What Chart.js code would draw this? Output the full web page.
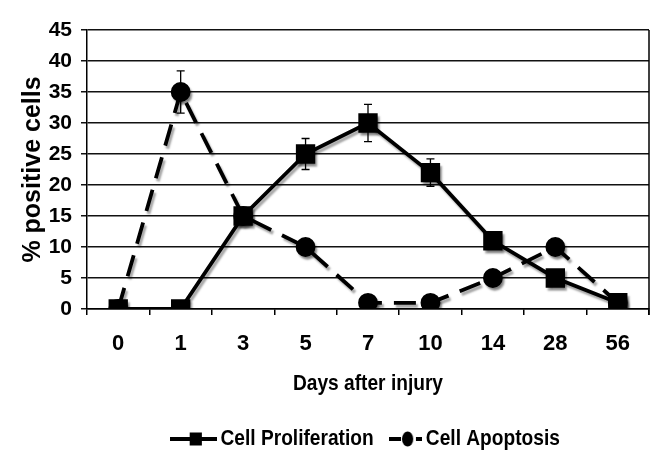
<!DOCTYPE html>
<html><head><meta charset="utf-8">
<script src="https://cdn.jsdelivr.net/npm/chart.js@4/dist/chart.umd.min.js"></script>
<style>html,body{margin:0;padding:0;background:#fff}#wrap{width:668px;height:468px}</style>
</head><body><div id="wrap"><canvas id="c" width="668" height="468"></canvas></div>
<script>
const days = ['0','1','3','5','7','10','14','28','56'];
const proliferation = [0, 0, 15, 25, 30, 22, 11, 5, 1];
const proliferationErr = [0, 0, 0, 2.5, 3, 2.2, 0, 0, 0];
const apoptosis = [0, 35, 15, 10, 1, 1, 5, 10, 1];
const apoptosisErr = [0, 3.4, 0, 0, 0, 0, 0, 0, 0];
const yTicks = [0,5,10,15,20,25,30,35,40,45];

const FONT = '"Liberation Sans",Arial,sans-serif';
const SQ = 0.87; // horizontal squeeze for narrow-looking text

function legendIcon(kind){
  const c = document.createElement('canvas');
  c.width = 53; c.height = 20;
  const g = c.getContext('2d');
  g.strokeStyle = '#000'; g.fillStyle = '#000'; g.lineWidth = 4;
  if (kind === 'sq') {
    g.beginPath(); g.moveTo(0,10); g.lineTo(53,10); g.stroke();
    g.fillRect(22,3.5,14,13);
  } else {
    const o = 15;
    g.beginPath(); g.moveTo(o,10); g.lineTo(o+14,10); g.moveTo(o+31,10); g.lineTo(o+38,10); g.stroke();
    g.beginPath(); g.ellipse(o+21.5,10,6.5,7.5,0,0,Math.PI*2); g.fill();
  }
  return c;
}

const errorBars = {
  id:'errorBars',
  afterDatasetsDraw(chart){
    const ctx = chart.ctx;
    const y = chart.scales.y;
    chart.data.datasets.forEach((ds,i)=>{
      const meta = chart.getDatasetMeta(i);
      ds.err.forEach((e,j)=>{
        if(!e) return;
        const x = meta.data[j].x;
        const yt = y.getPixelForValue(ds.data[j]+e);
        const yb = y.getPixelForValue(ds.data[j]-e);
        ctx.save();
        ctx.strokeStyle='#000'; ctx.lineWidth=1.3;
        ctx.beginPath();
        ctx.moveTo(x,yt); ctx.lineTo(x,yb);
        ctx.moveTo(x-4,yt); ctx.lineTo(x+4,yt);
        ctx.moveTo(x-4,yb); ctx.lineTo(x+4,yb);
        ctx.stroke();
        ctx.restore();
      });
    });
  }
};
const frame = {
  id:'frame',
  beforeDraw(chart){
    const sx = chart.scales.x;
    if (sx && !sx._sq) {
      const orig = sx.drawTitle.bind(sx);
      sx.drawTitle = function(){
        const ctx = chart.ctx, cx = (chart.chartArea.left + chart.chartArea.right)/2;
        ctx.save(); ctx.translate(cx,0); ctx.scale(SQ,1); ctx.translate(-cx,0); orig(); ctx.restore();
      };
      sx._sq = true;
    }
    const lg = chart.legend;
    if (lg && !lg._sq) {
      const orig = lg.draw.bind(lg);
      lg.draw = function(a){
        const ctx = chart.ctx, cl = (lg.left + lg.right)/2, tgt = (chart.chartArea.left + chart.chartArea.right)/2;
        ctx.save(); ctx.translate(tgt,0); ctx.scale(SQ,1); ctx.translate(-cl,0); orig(a); ctx.restore();
      };
      lg._sq = true;
    }
  },
  beforeDatasetsDraw(chart){
    const {ctx, chartArea:a} = chart;
    ctx.save();
    ctx.strokeStyle='#000'; ctx.lineWidth=1.5;
    ctx.beginPath(); ctx.moveTo(a.right,a.top); ctx.lineTo(a.right,a.bottom+6); ctx.stroke();
    ctx.restore();
  },
  beforeDatasetDraw(chart){
    const ctx=chart.ctx; ctx.save();
    ctx.shadowColor='rgba(0,0,0,0.35)'; ctx.shadowOffsetX=2; ctx.shadowOffsetY=3; ctx.shadowBlur=2;
  },
  afterDatasetDraw(chart){ chart.ctx.restore(); }
};

new Chart(document.getElementById('c'), {
  type:'line',
  data:{
    labels: days,
    datasets:[
      {label:'Cell Proliferation', data: proliferation, err: proliferationErr,
       borderColor:'#000', backgroundColor:'#000', borderWidth:3.8,
       pointStyle:'rect', pointRadius:11, pointHoverRadius:11, tension:0, order:1},
      {label:'Cell Apoptosis', data: apoptosis, err: apoptosisErr,
       borderColor:'#000', backgroundColor:'#000', borderWidth:3.8, borderDash:[22,12],
       pointStyle:'circle', pointRadius:8, pointHoverRadius:8, tension:0, order:2}
    ]
  },
  options:{
    responsive:false, animation:false,
    layout:{padding:{left:0,right:19,top:30,bottom:8}},
    plugins:{
      tooltip:{enabled:false},
      legend:{
        position:'bottom',
        labels:{
          usePointStyle:true, pointStyleWidth:40, padding:9,
          color:'#000', font:{family:FONT, size:22, weight:'bold'},
          generateLabels(chart){
            return chart.data.datasets.map((ds,i)=>({
              text: ds.label, pointStyle: legendIcon(i===0?'sq':'ci'),
              fillStyle:'#000', strokeStyle:'#000', lineWidth:0, datasetIndex:i, hidden:false
            }));
          }
        }
      }
    },
    scales:{
      x:{
        type:'category', offset:true,
        afterFit(s){ s.height = 110; },
        grid:{offset:true, drawOnChartArea:false, color:'#000', lineWidth:1.5, tickLength:6},
        border:{color:'#000', width:1.5},
        ticks:{color:'#000', font:{family:FONT, size:22, weight:'bold'}, padding:16, maxRotation:0},
        title:{display:true, text:'Days after injury', color:'#000', font:{family:FONT, size:22, weight:'bold'}, padding:{top:10,bottom:22}}
      },
      y:{
        min:0, max:45,
        afterFit(s){ s.width = 87; },
        afterBuildTicks(s){ s.ticks = yTicks.map(v=>({value:v})); },
        grid:{color:'#111', lineWidth:1.5, tickLength:6},
        border:{color:'#000', width:1.5},
        ticks:{color:'#000', font:{family:FONT, size:21, weight:'bold'}, padding:9},
        title:{display:true, text:'% positive cells', color:'#000', font:{family:FONT, size:25, weight:'bold'}, padding:{top:18,bottom:4}}
      }
    }
  },
  plugins:[errorBars, frame]
});
</script></body></html>
